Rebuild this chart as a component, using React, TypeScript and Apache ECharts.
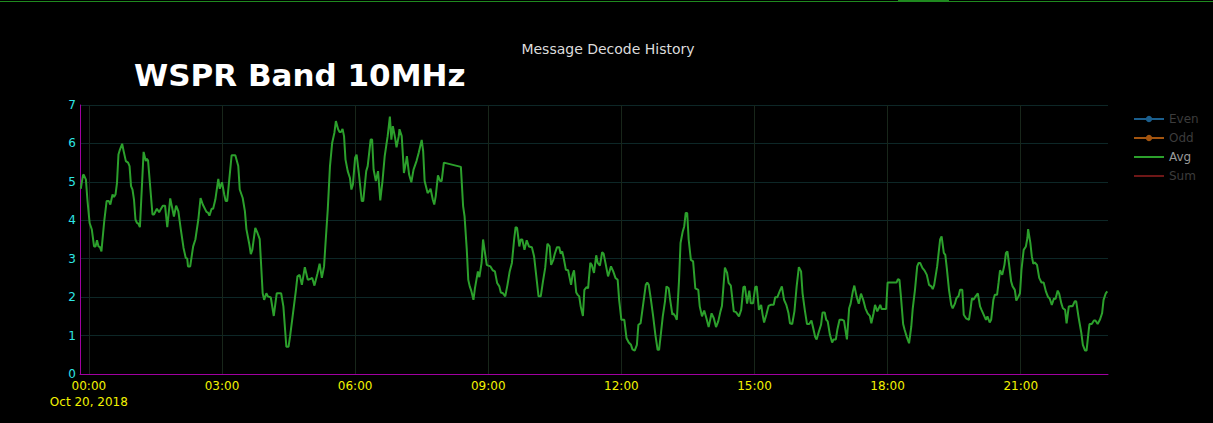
import React, { useEffect, useRef } from 'react';
import * as echarts from 'echarts';

const chartTitle = 'Message Decode History';
const bandLabel = 'WSPR Band 10MHz';
const dateLabel = 'Oct 20, 2018';
const legendNames = ['Even', 'Odd', 'Avg', 'Sum'];
// x axis in minutes from Oct 20, 2018 00:00
const hourTickMinutes = [0, 180, 360, 540, 720, 900, 1080, 1260];
const xMin = -12;
const xMax = 1378;
const yMin = 0;
const yMax = 7;

// [minute, average decodes]
const avgReadings: [number, number][] = [
  [-11, 4.82], [-8, 5.17], [-7, 5.19], [-4, 5.06], [-2, 4.54], [1, 3.93], [4, 3.76], [7, 3.32], [9, 3.32], [11, 3.48],
  [13, 3.32], [15, 3.3], [17, 3.19], [18, 3.41], [21, 4.02], [24, 4.5], [27, 4.5], [29, 4.41], [32, 4.67], [34, 4.61],
  [36, 4.67], [38, 4.97], [40, 5.71], [42, 5.84], [45, 5.99], [47, 5.8], [50, 5.54], [53, 5.5], [55, 5.41], [57, 4.89],
  [59, 4.8], [61, 4.54], [63, 4.02], [65, 3.93], [67, 3.91], [69, 3.82], [74, 5.78], [77, 5.54], [78, 5.6], [80, 5.56],
  [86, 4.15], [88, 4.15], [90, 4.23], [92, 4.3], [95, 4.21], [97, 4.28], [100, 4.38], [103, 4.38], [106, 3.82], [110, 4.57],
  [115, 4.1], [118, 4.38], [121, 4.23], [124, 3.8], [128, 3.28], [131, 3.02], [133, 3.0], [134, 2.8], [137, 2.8], [141, 3.32],
  [144, 3.5], [148, 4.02], [151, 4.58], [154, 4.41], [159, 4.22], [161, 4.2], [163, 4.12], [166, 4.3], [168, 4.3], [171, 4.54],
  [175, 5.08], [177, 4.82], [180, 4.99], [183, 4.67], [185, 4.5], [187, 4.5], [193, 5.69], [198, 5.69], [202, 5.41], [204, 4.8],
  [208, 4.58], [211, 4.23], [213, 3.77], [217, 3.37], [219, 3.12], [221, 3.23], [225, 3.8], [228, 3.67], [231, 3.51], [235, 2.1],
  [237, 1.93], [240, 2.1], [242, 2.02], [246, 1.99], [250, 1.51], [254, 2.1], [260, 2.1], [263, 1.76], [267, 0.71], [270, 0.71],
  [272, 0.97], [276, 1.58], [280, 2.19], [282, 2.54], [285, 2.58], [288, 2.32], [292, 2.78], [296, 2.45], [300, 2.48], [302, 2.5],
  [305, 2.3], [309, 2.61], [312, 2.87], [315, 2.5], [318, 2.8], [320, 3.41], [323, 4.28], [326, 5.41], [329, 6.02], [332, 6.28],
  [334, 6.58], [337, 6.37], [339, 6.3], [341, 6.3], [343, 6.38], [345, 6.19], [347, 5.58], [350, 5.28], [353, 5.1], [355, 4.8],
  [357, 4.93], [360, 5.63], [362, 5.71], [365, 5.23], [369, 4.5], [371, 4.5], [375, 5.28], [377, 5.41], [381, 6.1], [383, 6.1],
  [385, 5.32], [388, 5.02], [391, 5.28], [394, 4.52], [397, 5.02], [400, 5.67], [402, 5.93], [404, 6.19], [407, 6.7], [409, 6.1],
  [411, 6.45], [414, 6.15], [416, 5.9], [419, 6.19], [420, 6.37], [423, 6.19], [425, 5.58], [426, 5.23], [429, 5.54], [430, 5.67],
  [433, 5.19], [436, 4.99], [439, 5.32], [443, 5.54], [446, 5.76], [450, 6.09], [452, 5.8], [454, 5.02], [458, 4.71], [461, 4.78],
  [462, 4.82], [465, 4.54], [467, 4.41], [469, 4.63], [472, 5.17], [475, 5.02], [477, 5.02], [480, 5.5], [503, 5.39], [506, 4.37],
  [508, 4.1], [511, 3.23], [513, 2.45], [515, 2.28], [517, 2.17], [520, 1.93], [522, 2.23], [526, 2.67], [528, 2.52], [531, 2.89],
  [533, 3.5], [535, 3.23], [538, 2.84], [540, 2.82], [543, 2.8], [546, 2.7], [549, 2.67], [552, 2.37], [555, 2.28], [557, 2.12],
  [560, 2.1], [563, 2.02], [566, 2.32], [569, 2.67], [572, 2.89], [575, 3.5], [577, 3.82], [579, 3.8], [582, 3.32], [584, 3.5],
  [586, 3.5], [589, 3.23], [592, 3.48], [595, 3.32], [599, 3.3], [602, 3.06], [605, 2.54], [608, 2.02], [611, 2.02], [614, 2.41],
  [617, 2.76], [620, 3.39], [623, 3.32], [625, 2.84], [628, 2.97], [630, 3.13], [633, 3.3], [636, 3.3], [638, 3.13], [640, 3.19],
  [642, 3.02], [645, 2.71], [648, 2.7], [652, 2.32], [654, 2.58], [656, 2.7], [659, 2.12], [661, 2.06], [663, 2.02], [665, 1.76],
  [668, 1.51], [670, 2.19], [673, 2.26], [675, 2.23], [678, 2.89], [680, 2.84], [683, 2.63], [686, 3.09], [688, 2.89], [691, 2.82],
  [694, 3.17], [696, 3.13], [699, 2.84], [702, 2.54], [704, 2.67], [706, 2.8], [709, 2.67], [712, 2.5], [715, 2.45], [717, 1.93],
  [720, 1.41], [724, 1.41], [727, 0.93], [730, 0.82], [733, 0.76], [735, 0.64], [738, 0.61], [741, 0.76], [743, 1.28], [746, 1.32],
  [750, 1.89], [753, 2.32], [755, 2.38], [757, 2.32], [760, 1.93], [763, 1.5], [766, 1.02], [769, 0.63], [771, 0.63], [773, 0.97],
  [776, 1.5], [779, 1.89], [781, 2.28], [784, 2.23], [786, 1.93], [789, 1.54], [790, 1.58], [793, 1.5], [795, 1.41], [798, 2.45],
  [800, 3.41], [803, 3.71], [805, 3.84], [807, 4.19], [809, 4.19], [811, 3.5], [814, 2.97], [817, 2.93], [820, 2.23], [824, 2.19],
  [826, 1.76], [829, 1.5], [832, 1.65], [835, 1.45], [838, 1.22], [842, 1.58], [845, 1.45], [848, 1.22], [851, 1.37], [854, 1.63],
  [856, 1.77], [860, 2.77], [863, 2.63], [865, 2.37], [868, 2.3], [872, 1.63], [875, 1.61], [879, 1.5], [882, 1.67], [885, 2.26],
  [887, 2.28], [890, 1.83], [893, 2.17], [895, 1.84], [898, 1.84], [901, 2.26], [903, 2.28], [906, 1.67], [909, 1.8], [911, 1.54],
  [913, 1.34], [916, 1.54], [919, 1.77], [922, 1.8], [926, 1.8], [928, 2.0], [931, 2.0], [934, 2.15], [937, 2.28], [940, 1.93],
  [943, 1.8], [946, 1.58], [948, 1.32], [951, 1.3], [954, 1.63], [957, 2.28], [960, 2.78], [963, 2.67], [965, 2.1], [968, 1.67],
  [971, 1.3], [974, 1.3], [977, 1.39], [979, 1.23], [982, 0.97], [984, 0.9], [987, 1.1], [990, 1.28], [992, 1.6], [995, 1.6],
  [997, 1.41], [999, 1.37], [1002, 1.02], [1005, 0.82], [1007, 0.9], [1010, 0.9], [1012, 1.15], [1015, 1.41], [1018, 1.41], [1021, 1.39],
  [1024, 1.02], [1025, 0.9], [1028, 1.71], [1030, 1.83], [1033, 2.15], [1035, 2.3], [1038, 2.02], [1041, 1.83], [1044, 2.09], [1047, 1.93],
  [1050, 1.71], [1053, 1.58], [1056, 1.51], [1058, 1.32], [1061, 1.58], [1063, 1.8], [1066, 1.63], [1068, 1.71], [1070, 1.8], [1072, 1.69],
  [1078, 1.69], [1080, 2.38], [1092, 2.38], [1094, 2.47], [1096, 2.45], [1098, 2.02], [1101, 1.3], [1103, 1.15], [1106, 0.96], [1109, 0.8],
  [1112, 1.23], [1114, 1.71], [1117, 2.19], [1120, 2.8], [1122, 2.89], [1124, 2.89], [1127, 2.76], [1130, 2.69], [1133, 2.58], [1136, 2.32],
  [1139, 2.28], [1141, 2.21], [1143, 2.32], [1147, 2.8], [1149, 3.15], [1151, 3.5], [1153, 3.58], [1156, 3.15], [1158, 3.1], [1160, 2.76],
  [1163, 2.19], [1166, 1.8], [1168, 1.71], [1171, 1.83], [1173, 1.97], [1176, 2.03], [1178, 2.19], [1181, 2.19], [1183, 1.54], [1186, 1.45],
  [1190, 1.41], [1192, 1.67], [1194, 1.97], [1196, 1.93], [1199, 2.02], [1202, 2.1], [1205, 1.76], [1207, 1.67], [1210, 1.54], [1213, 1.41],
  [1215, 1.5], [1218, 1.34], [1220, 1.41], [1223, 1.93], [1225, 2.06], [1228, 2.06], [1230, 2.37], [1232, 2.7], [1235, 2.58], [1238, 2.84],
  [1240, 3.15], [1242, 3.19], [1244, 2.89], [1247, 2.41], [1249, 2.28], [1252, 2.19], [1254, 1.91], [1257, 2.02], [1259, 2.1], [1261, 2.71],
  [1264, 3.23], [1267, 3.32], [1269, 3.54], [1270, 3.77], [1273, 3.41], [1275, 3.06], [1277, 2.87], [1279, 2.9], [1282, 2.84], [1285, 2.5],
  [1288, 2.38], [1291, 2.38], [1294, 2.15], [1297, 2.0], [1299, 1.97], [1302, 1.8], [1305, 1.97], [1307, 1.95], [1310, 2.17], [1312, 2.09],
  [1315, 1.83], [1317, 1.71], [1320, 1.67], [1322, 1.32], [1325, 1.76], [1328, 1.77], [1330, 1.76], [1333, 1.89], [1335, 1.89], [1338, 1.5],
  [1342, 1.06], [1344, 0.76], [1347, 0.61], [1349, 0.61], [1352, 1.15], [1353, 1.3], [1356, 1.3], [1359, 1.39], [1361, 1.39], [1364, 1.3],
  [1367, 1.41], [1370, 1.58], [1372, 1.93], [1375, 2.1], [1377, 2.15],
];

const seriesColors: Record<string, string> = {
  Even: '#1b5f8e',
  Odd: '#a3540f',
  Avg: '#2ca02c',
  Sum: '#6e1717',
};
const legendTextColors: Record<string, string> = {
  Even: '#3c3c3c',
  Odd: '#3c3c3c',
  Avg: '#9a9a9a',
  Sum: '#3c3c3c',
};
const legendHasMarker: Record<string, boolean> = {
  Even: true,
  Odd: true,
  Avg: false,
  Sum: false,
};

const FONT = '"DejaVu Sans", Verdana, sans-serif';

function fmtTime(m: number): string {
  const h = Math.floor(m / 60);
  const mm = m % 60;
  return `${String(h).padStart(2, '0')}:${String(mm).padStart(2, '0')}`;
}

export default function App() {
  const ref = useRef<HTMLDivElement>(null);

  useEffect(() => {
    if (!ref.current) return;
    const chart = echarts.init(ref.current, null, { renderer: 'svg' });
    const option: any = {
      animation: false,
      backgroundColor: '#000000',
      grid: { left: 80, right: 105, top: 105, bottom: 49, containLabel: false },
      legend: {
        orient: 'vertical',
        left: 1133,
        top: 113,
        padding: 0,
        itemWidth: 30,
        itemHeight: 8,
        itemGap: 7,
        selectedMode: false,
        textStyle: { fontFamily: FONT, fontSize: 12 },
        data: legendNames.map((n) => ({
          name: n,
          textStyle: { color: legendTextColors[n] },
          itemStyle: legendHasMarker[n] ? undefined : { opacity: 0 },
        })),
      },
      xAxis: {
        type: 'value',
        min: xMin,
        max: xMax,
        axisLine: { show: true, onZero: false, lineStyle: { color: '#a000a0', width: 1 } },
        axisTick: { show: false, customValues: hourTickMinutes },
        axisLabel: {
          customValues: hourTickMinutes,
          color: '#f2f200',
          fontFamily: FONT,
          fontSize: 12,
          margin: 4,
          lineHeight: 16,
          formatter: (v: number) => (v === 0 ? `${fmtTime(v)}\n${dateLabel}` : fmtTime(v)),
        },
        splitLine: { show: true, lineStyle: { color: '#18261a', width: 1 } },
      },
      yAxis: {
        type: 'value',
        min: yMin,
        max: yMax,
        interval: 1,
        axisLine: { show: true, onZero: false, lineStyle: { color: '#a000a0', width: 1 } },
        axisTick: { show: false },
        axisLabel: { color: '#2ee6e6', fontFamily: FONT, fontSize: 12, margin: 4 },
        splitLine: { show: true, lineStyle: { color: '#0d2727', width: 1 } },
      },
      series: [
        {
          name: 'Even',
          type: 'line',
          data: [],
          symbol: 'circle',
          symbolSize: 6,
          color: seriesColors.Even,
          lineStyle: { color: seriesColors.Even, width: 2 },
        },
        {
          name: 'Odd',
          type: 'line',
          data: [],
          symbol: 'circle',
          symbolSize: 6,
          color: seriesColors.Odd,
          lineStyle: { color: seriesColors.Odd, width: 2 },
        },
        {
          name: 'Avg',
          type: 'line',
          data: avgReadings,
          symbol: 'none',
          showSymbol: false,
          color: seriesColors.Avg,
          lineStyle: { color: seriesColors.Avg, width: 2 },
        },
        {
          name: 'Sum',
          type: 'line',
          data: [],
          symbol: 'none',
          showSymbol: false,
          color: seriesColors.Sum,
          lineStyle: { color: seriesColors.Sum, width: 2 },
        },
      ],
      graphic: [
        { type: 'rect', shape: { x: 0, y: 1, width: 1213, height: 1 }, style: { fill: '#1f8a1f' }, silent: true },
        { type: 'rect', shape: { x: 898, y: 0, width: 51, height: 2 }, style: { fill: '#1f8a1f' }, silent: true },
        {
          type: 'text',
          x: 134,
          y: 75,
          style: {
            text: bandLabel,
            fill: '#ffffff',
            font: `bold 31px ${FONT}`,
            verticalAlign: 'middle',
            align: 'left',
          },
          silent: true,
        },
        {
          type: 'text',
          x: 608,
          y: 48.5,
          style: {
            text: chartTitle,
            fill: '#dcdcdc',
            font: `14px ${FONT}`,
            verticalAlign: 'middle',
            align: 'center',
          },
          silent: true,
        },
      ],
    };
    chart.setOption(option);
    return () => chart.dispose();
  }, []);

  return (
    <div
      ref={ref}
      style={{ position: 'fixed', left: 0, top: 0, width: 1213, height: 423, background: '#000' }}
    />
  );
}
